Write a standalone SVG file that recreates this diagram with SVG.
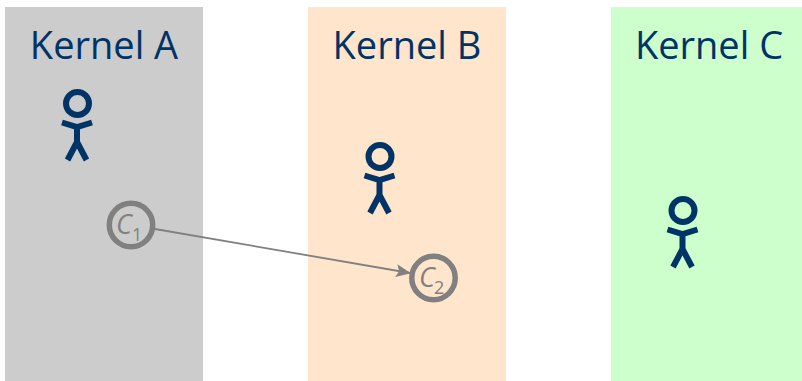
<svg xmlns="http://www.w3.org/2000/svg" width="802" height="381" viewBox="0 0 802 381">
<style>
.t{font-family:"Open Sans","Noto Sans",sans-serif;font-size:38px;fill:#003366;text-anchor:middle}
.p{fill:none;stroke:#003366;stroke-width:6}
.c{fill:none;stroke:#808080;stroke-width:5.5}
.l{font-family:"Open Sans","Noto Sans",sans-serif;fill:#808080;font-style:italic;font-size:27px}
.s{font-family:"Open Sans","Noto Sans",sans-serif;fill:#808080;font-size:18px}
</style>
<defs>
<g id="person"><circle class="p" cx="0.5" cy="13.5" r="11.5"/><path class="p" d="M-15 32.5L0 37L15 32.5M0 37V53M0 52L-9.5 70M0 52L9.5 70"/></g>
<marker id="a" markerWidth="15" markerHeight="13" refX="14" refY="6.5" orient="auto" markerUnits="userSpaceOnUse"><path d="M0 0L15 6.5L0 13L3 6.5Z" fill="#808080"/></marker>
</defs>
<g id="kernel-a"><rect x="5" y="7" width="198" height="374" fill="#cccccc"/><text class="t" x="104" y="59">Kernel A</text><use href="#person" x="77" y="90"/></g>
<g id="kernel-b"><rect x="308" y="7" width="198" height="374" fill="#ffe5cc"/><text class="t" x="407" y="59">Kernel B</text><use href="#person" x="379.5" y="143"/></g>
<g id="kernel-c"><rect x="611" y="7" width="191" height="374" fill="#ccffcc"/><text class="t" x="709" y="59">Kernel C</text><use href="#person" x="682.5" y="197"/></g>
<g id="connectors"><line x1="155" y1="229" x2="410" y2="273" stroke="#808080" stroke-width="1.8" marker-end="url(#a)"/></g>
<g id="c1"><circle class="c" cx="131" cy="225" r="21.7"/><text class="l" x="116" y="234">C</text><text class="s" x="132" y="241">1</text></g>
<g id="c2"><circle class="c" cx="433.5" cy="278" r="21.7"/><text class="l" x="419" y="287">C</text><text class="s" x="434" y="294">2</text></g>
</svg>
